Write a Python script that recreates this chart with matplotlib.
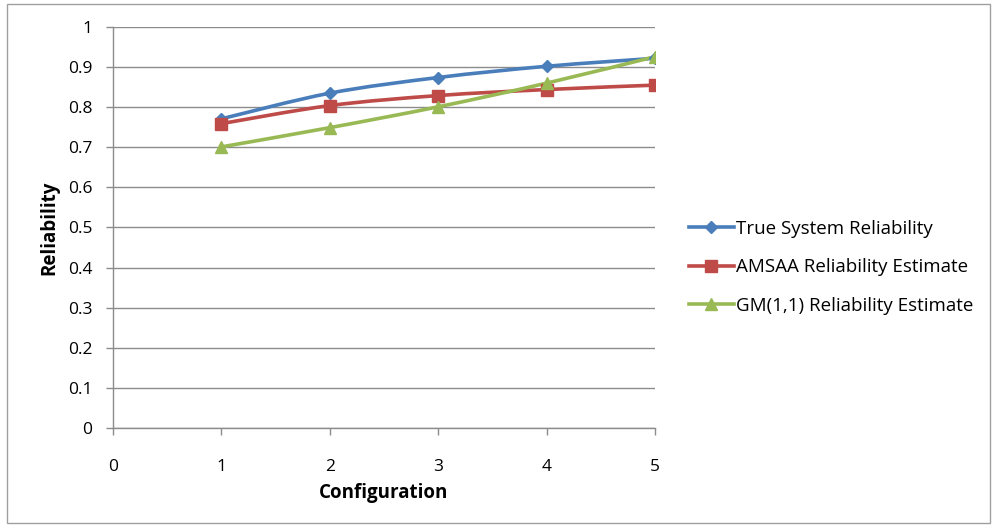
import numpy as np
import matplotlib
matplotlib.use("Agg")
import matplotlib.pyplot as plt
from matplotlib.path import Path
from matplotlib.patches import PathPatch, Rectangle
from matplotlib.lines import Line2D

config = [1, 2, 3, 4, 5]
true_rel = [0.771, 0.835, 0.874, 0.902, 0.922]
amsaa_rel = [0.759, 0.804, 0.829, 0.844, 0.855]
gm_rel = [0.701, 0.749, 0.801, 0.860, 0.926]

labels = ["True System Reliability", "AMSAA Reliability Estimate", "GM(1,1) Reliability Estimate"]
colors = ["#4A7EBB", "#BE4B48", "#98B954"]
markers = ["D", "s", "^"]
msizes = [6.5, 8, 8.5]

plt.rcParams['font.family'] = ['Open Sans', 'DejaVu Sans']

fig = plt.figure(figsize=(9.94, 5.26), dpi=100)
fig.patches.append(Rectangle((0.007, 0.006), 0.989, 0.987, transform=fig.transFigure,
                             fill=False, edgecolor="#A0A0A0", linewidth=1))
ax = fig.add_axes([0.1137, 0.1863, 0.5453, 0.7624])


def smooth_path(x, y, t=1/6):
    # Bezier-Kurve wie "geglaettete Linie" in Excel
    x = np.asarray(x, float)
    y = np.asarray(y, float)
    n = len(x)
    verts = [(x[0], y[0])]
    codes = [Path.MOVETO]
    for i in range(n - 1):
        x0, y0 = (x[i - 1], y[i - 1]) if i > 0 else (x[i], y[i])
        x3, y3 = (x[i + 2], y[i + 2]) if i + 2 < n else (x[i + 1], y[i + 1])
        c1 = (x[i] + (x[i + 1] - x0) * t, y[i] + (y[i + 1] - y0) * t)
        c2 = (x[i + 1] - (x3 - x[i]) * t, y[i + 1] - (y3 - y[i]) * t)
        verts += [c1, c2, (x[i + 1], y[i + 1])]
        codes += [Path.CURVE4] * 3
    return Path(verts, codes)


handles = []
for ys, c, m, ms, lab in zip([true_rel, amsaa_rel, gm_rel], colors, markers, msizes, labels):
    ax.add_patch(PathPatch(smooth_path(config, ys), fill=False, edgecolor=c, linewidth=2.6,
                           zorder=3, capstyle="round", joinstyle="round"))
    ax.plot(config, ys, linestyle="none", marker=m, color=c, markersize=ms, zorder=4)
    handles.append(Line2D([], [], color=c, marker=m, markersize=ms, linewidth=2.6, label=lab))

ax.set_xlim(0, 5)
ax.set_ylim(0, 1)
ax.set_xticks(np.arange(0, 6, 1))
ax.set_yticks(np.arange(0, 1.01, 0.1))
ax.set_yticklabels(["0"] + ["%.1f" % v for v in np.arange(0.1, 0.95, 0.1)] + ["1"])
ax.grid(axis="y", color="#8C8C8C", linewidth=1)
ax.set_axisbelow(True)
for s in ["top", "right"]:
    ax.spines[s].set_visible(False)
for s in ["left", "bottom"]:
    ax.spines[s].set_color("#8C8C8C")
    ax.spines[s].set_linewidth(1)
ax.tick_params(axis="both", colors="#8C8C8C", labelcolor="black", labelsize=12.5, length=5, width=1)
ax.tick_params(axis="y", pad=10)
ax.tick_params(axis="x", pad=17)
ax.set_xlabel("Configuration", fontsize=13.5, fontweight="bold", labelpad=6)
ax.set_ylabel("Reliability", fontsize=13.5, fontweight="bold", labelpad=6)

fig.legend(handles=handles, loc="center left", bbox_to_anchor=(0.676, 0.492), frameon=False,
           fontsize=13.5, handlelength=2.4, handletextpad=0.12, labelspacing=1.1)

fig.savefig("out.png", dpi=100)
